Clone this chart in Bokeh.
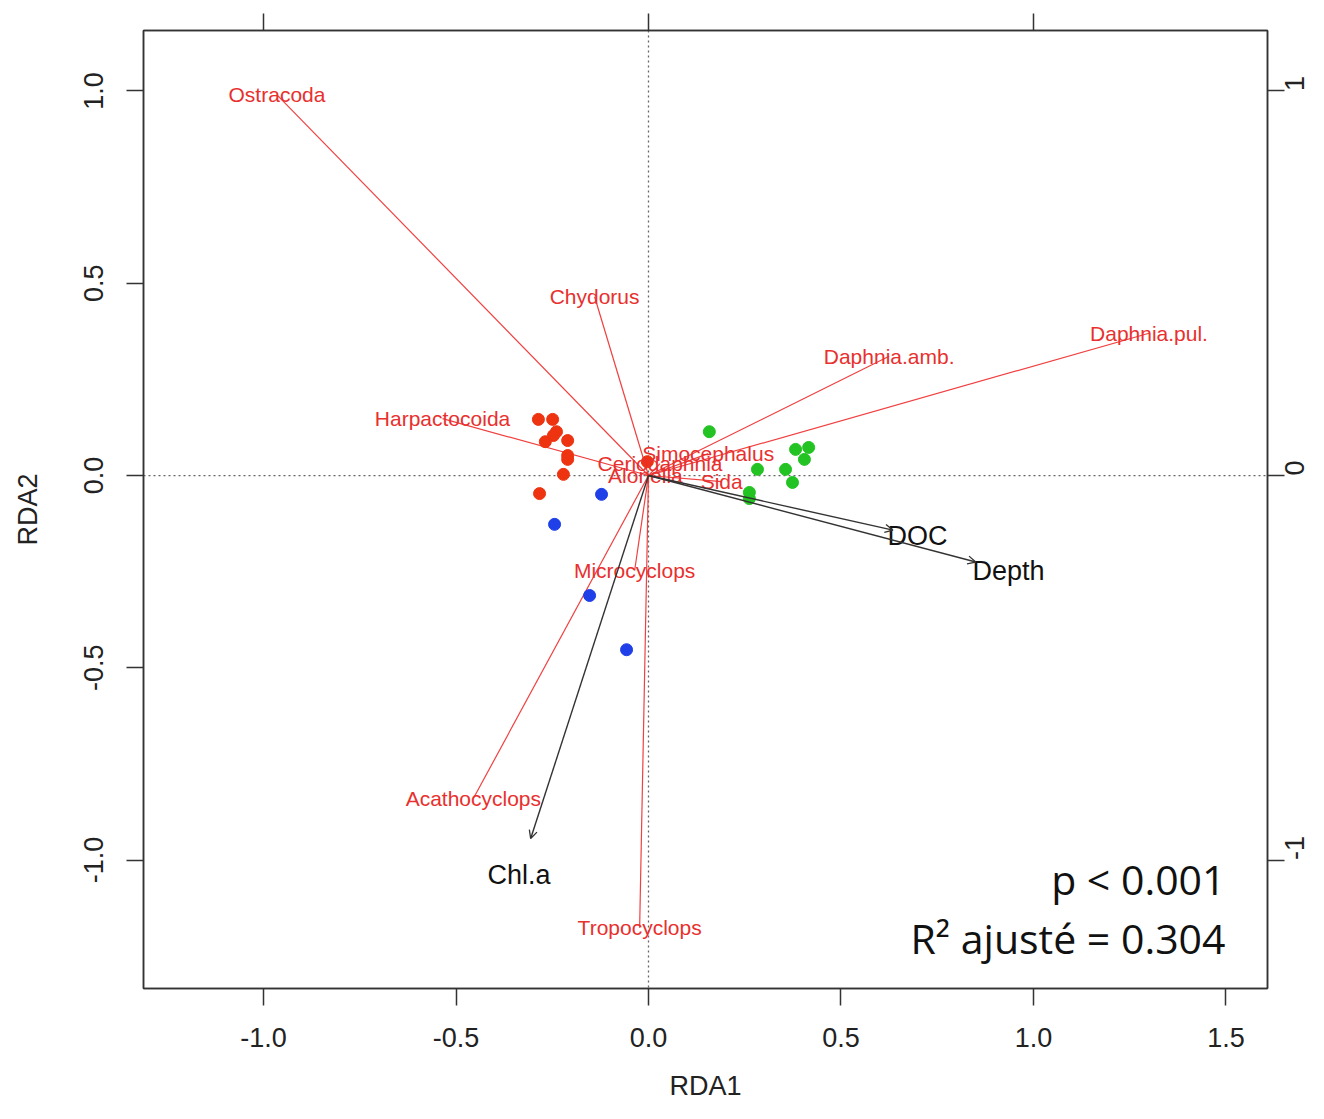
import numpy as np
from bokeh.plotting import figure
from bokeh.models import (Range1d, LinearAxis, FixedTicker, Span, Arrow, OpenHead,
                          Label, ColumnDataSource, PrintfTickFormatter)
from bokeh.embed import file_html
from bokeh.resources import INLINE
from bokeh.core.properties import value

# ---- data ----
species = ["Ostracoda", "Chydorus", "Daphnia.pul.", "Daphnia.amb.", "Harpactocoida",
           "Simocephalus", "Ceriodaphnia", "Alonella", "Sida", "Microcyclops",
           "Acathocyclops", "Tropocyclops"]
species_x = [-0.965, -0.14, 1.30, 0.625, -0.535, 0.155, 0.03, -0.008, 0.19, -0.036, -0.455, -0.023]
species_y = [0.99, 0.465, 0.37, 0.31, 0.148, 0.057, 0.031, 0.0, -0.016, -0.247, -0.84, -1.176]

env = ["Chl.a", "DOC", "Depth"]
env_x = [-0.306, 0.635, 0.850]
env_y = [-0.944, -0.142, -0.225]

sites_red_x = [-0.286, -0.249, -0.239, -0.247, -0.268, -0.210, -0.210, -0.210, -0.221, -0.283, -0.003]
sites_red_y = [0.146, 0.146, 0.114, 0.104, 0.088, 0.091, 0.052, 0.042, 0.003, -0.047, 0.036]
sites_blue_x = [-0.122, -0.244, -0.153, -0.057]
sites_blue_y = [-0.049, -0.127, -0.312, -0.453]
sites_green_x = [0.158, 0.382, 0.416, 0.405, 0.283, 0.356, 0.374, 0.262, 0.262]
sites_green_y = [0.114, 0.068, 0.073, 0.042, 0.016, 0.016, -0.018, -0.044, -0.060]

x_ticks = [-1.0, -0.5, 0.0, 0.5, 1.0, 1.5]
y_ticks = [-1.0, -0.5, 0.0, 0.5, 1.0]
sec_ticks = [-1, 0, 1]

p_text = "p < 0.001"
r2_text = "R² ajusté = 0.304"

FONT = "Liberation Sans"
RED_TXT = "#e8302e"
RED_LINE = "#f04040"
DARK = "#333333"

p = figure(width=1316, height=1103, output_backend="svg", toolbar_location=None,
           x_range=Range1d(-1.3117, 1.6078), y_range=Range1d(-1.334, 1.1573),
           min_border_left=143, min_border_right=49, min_border_top=30, min_border_bottom=115,
           background_fill_color="white", border_fill_color="white")
p.grid.visible = False
p.outline_line_color = DARK
p.outline_line_width = 1.5

# axes
for ax in (p.xaxis[0], p.yaxis[0]):
    ax.major_tick_out = 17
    ax.major_tick_in = 0
    ax.minor_tick_line_color = None
    ax.axis_line_color = DARK
    ax.axis_line_width = 1.5
    ax.major_tick_line_color = DARK
    ax.major_tick_line_width = 1.5
    ax.major_label_text_font = FONT
    ax.major_label_text_font_size = "27px"
    ax.major_label_text_color = "#222222"
    ax.axis_label_text_font = FONT
    ax.axis_label_text_font_size = "27px"
    ax.axis_label_text_font_style = "normal"
    ax.axis_label_text_color = "#222222"
    ax.formatter = PrintfTickFormatter(format="%.1f")

p.xaxis[0].ticker = FixedTicker(ticks=x_ticks, minor_ticks=[])
p.yaxis[0].ticker = FixedTicker(ticks=y_ticks, minor_ticks=[])
p.xaxis[0].axis_label = "RDA1"
p.yaxis[0].axis_label = "RDA2"
p.xaxis[0].major_label_standoff = 22
p.xaxis[0].axis_label_standoff = 21
p.yaxis[0].major_label_standoff = 23
p.yaxis[0].axis_label_standoff = 39
p.yaxis[0].major_label_orientation = "vertical"

# top axis: ticks only
top = LinearAxis(ticker=FixedTicker(ticks=sec_ticks, minor_ticks=[]))
top.major_tick_out = 17
top.major_tick_in = 0
top.major_label_standoff = 0
top.major_label_text_font_size = "10px"
top.major_label_text_color = None
top.axis_line_color = DARK
top.axis_line_width = 1.5
top.major_tick_line_color = DARK
top.major_tick_line_width = 1.5
p.add_layout(top, "above")

# right axis: secondary species scale with rotated labels
right = LinearAxis(ticker=FixedTicker(ticks=sec_ticks, minor_ticks=[]),
                   formatter=PrintfTickFormatter(format="%d"))
right.major_tick_out = 17
right.major_tick_in = 0
right.major_label_standoff = 10
right.major_label_orientation = np.pi / 2
right.major_label_text_font = FONT
right.major_label_text_font_size = "27px"
right.major_label_text_color = "#222222"
right.axis_line_color = DARK
right.axis_line_width = 1.5
right.major_tick_line_color = DARK
right.major_tick_line_width = 1.5
p.add_layout(right, "right")

# dotted zero lines
p.add_layout(Span(location=0, dimension="width", line_dash="2 3", line_color="#666666",
                  line_width=1.3, level="underlay"))
p.add_layout(Span(location=0, dimension="height", line_dash="2 3", line_color="#666666",
                  line_width=1.3, level="underlay"))

# species lines
p.segment(x0=[0] * len(species), y0=[0] * len(species), x1=species_x, y1=species_y,
          line_color=RED_LINE, line_width=1.2)

# env arrows
env_src = ColumnDataSource(dict(x0=[0] * len(env), y0=[0] * len(env), x1=env_x, y1=env_y))
p.add_layout(Arrow(end=OpenHead(size=8, line_color=DARK, line_width=1.3),
                   x_start="x0", y_start="y0", x_end="x1", y_end="y1", source=env_src,
                   line_color=DARK, line_width=1.4))

# sites
p.scatter(sites_red_x, sites_red_y, size=12, fill_color="#ee3311", line_color="#ee3311")
p.scatter(sites_blue_x, sites_blue_y, size=12, fill_color="#1f3fe8", line_color="#1f3fe8")
p.scatter(sites_green_x, sites_green_y, size=12, fill_color="#22c322", line_color="#22c322")

# species labels
p.text(x=species_x, y=species_y, text=species, text_font=value(FONT), text_font_size="21px",
       text_color=RED_TXT, text_align="center", text_baseline="middle")

# env labels (placed a bit beyond arrow tips)
p.text(x=[v * 1.1 for v in env_x], y=[v * 1.1 for v in env_y], text=env,
       text_font=value(FONT), text_font_size="27px", text_color="#111111",
       text_align="center", text_baseline="middle")

# stats annotation
p.add_layout(Label(x=1.4987, y=-1.048, text=p_text, text_align="right",
                   text_baseline="alphabetic", text_font="Open Sans",
                   text_font_size="41px", text_color="#111111"))
p.add_layout(Label(x=1.4987, y=-1.2016, text=r2_text, text_align="right",
                   text_baseline="alphabetic", text_font="Open Sans",
                   text_font_size="41px", text_color="#111111"))

open("out.html", "w").write(file_html(p, INLINE))
